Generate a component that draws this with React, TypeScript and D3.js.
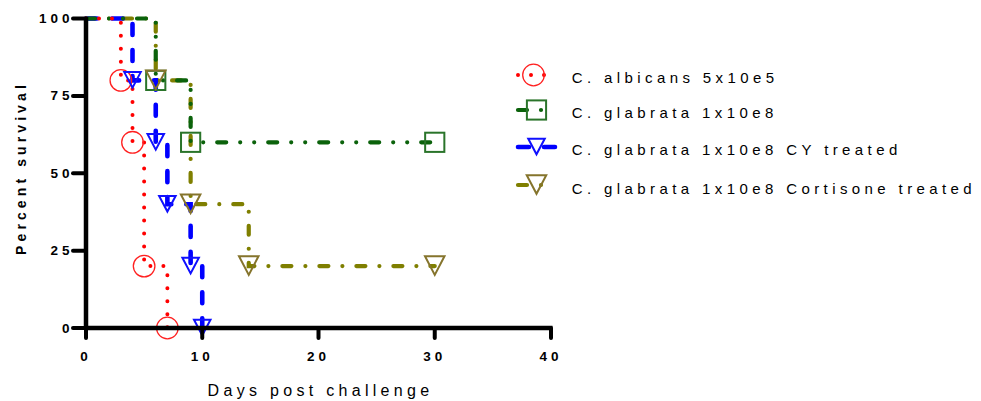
import React from "react";
import * as d3 from "d3";

// Kaplan–Meier survival steps (day, percent surviving)
const albicansDays = [0, 3, 4, 5, 7];
const albicansSurv = [100, 80, 60, 20, 0];
const glabrataDays = [0, 6, 9, 30];
const glabrataSurv = [100, 80, 60, 60];
const cyDays = [0, 4, 6, 7, 9, 10];
const cySurv = [100, 80, 60, 40, 20, 0];
const cortDays = [0, 6, 9, 14, 30];
const cortSurv = [100, 80, 40, 20, 20];

const seriesNames = [
  "C. albicans 5x10e5",
  "C. glabrata 1x10e8",
  "C. glabrata 1x10e8 CY treated",
  "C. glabrata 1x10e8 Cortisone treated",
];
const xTicks = [0, 10, 20, 30, 40];
const yTicks = [0, 25, 50, 75, 100];

type Series = {
  name: string;
  days: number[];
  surv: number[];
  color: string;
  markerColor: string;
  width: number;
  dash: string;
  marker: "circle" | "square" | "triUp" | "triBig";
};

const series: Series[] = [
  { name: seriesNames[0], days: albicansDays, surv: albicansSurv, color: "#ff0000", markerColor: "#ff2020", width: 4, dash: "0 13", marker: "circle" },
  { name: seriesNames[1], days: glabrataDays, surv: glabrataSurv, color: "#0b620b", markerColor: "#2a742a", width: 4.2, dash: "9 14 0 14 0 14", marker: "square" },
  { name: seriesNames[2], days: cyDays, surv: cySurv, color: "#0000ff", markerColor: "#1010ff", width: 4.6, dash: "11 15", marker: "triUp" },
  { name: seriesNames[3], days: cortDays, surv: cortSurv, color: "#7f7f00", markerColor: "#85742c", width: 4.2, dash: "9 14 0 14", marker: "triBig" },
];

// stacking order of the curve paths (bottom first)
const lineOrder = [3, 2, 1, 0];

const FONT = "Arial, 'Liberation Sans', sans-serif";

function Marker({ kind, x, y, color }: { kind: Series["marker"]; x: number; y: number; color: string }) {
  if (kind === "circle") {
    return <circle cx={x} cy={y} r={10.8} fill="none" stroke={color} strokeWidth={1.3} />;
  }
  if (kind === "square") {
    return <rect x={x - 9.6} y={y - 9.6} width={19.2} height={19.2} fill="none" stroke={color} strokeWidth={2} />;
  }
  const w = kind === "triBig" ? 19.5 : 16.5;
  const top = kind === "triBig" ? 9.8 : 8.3;
  const bot = kind === "triBig" ? 8.8 : 7.3;
  const pts = `${x - w / 2},${y - top} ${x + w / 2},${y - top} ${x},${y + bot}`;
  return <polygon points={pts} fill="none" stroke={color} strokeWidth={2} strokeLinejoin="miter" />;
}

export default function App() {
  const x = d3.scaleLinear().domain([0, 40]).range([86, 551]);
  const y = d3.scaleLinear().domain([0, 100]).range([328, 18.5]);

  const line = d3
    .line<[number, number]>()
    .x((d) => x(d[0]))
    .y((d) => y(d[1]))
    .curve(d3.curveStepAfter);

  const legendRows = [75, 110, 147, 185];
  const legendTextRows = [77, 112, 149, 188.5];

  return (
    <svg width={981} height={401} style={{ position: "absolute", left: 0, top: 0, background: "#fff" }}>
      {/* survival curves */}
      {lineOrder.map((idx) => {
        const s = series[idx];
        const pts = s.days.map((d, i) => [d, s.surv[i]] as [number, number]);
        return (
          <path
            key={s.name}
            d={line(pts) ?? ""}
            fill="none"
            stroke={s.color}
            strokeWidth={s.width}
            strokeDasharray={s.dash}
            strokeLinecap="round"
          />
        );
      })}
      {/* markers at each event and censoring point */}
      {series.map((s) =>
        s.days.slice(1).map((d, i) => (
          <Marker key={s.name + d} kind={s.marker} x={x(d)} y={y(s.surv[i + 1])} color={s.markerColor} />
        ))
      )}

      {/* axes */}
      <line x1={x(0)} x2={x(0)} y1={y(100) - 1.5} y2={y(0) + 2} stroke="#000" strokeWidth={4.5} />
      <line x1={x(0) - 2} x2={x(40) + 1.5} y1={y(0)} y2={y(0)} stroke="#000" strokeWidth={4.5} />
      {yTicks.map((t) => (
        <g key={"y" + t}>
          <line x1={73} x2={x(0)} y1={y(t)} y2={y(t)} stroke="#000" strokeWidth={4} strokeLinecap="round" />
          <text
            x={73.5}
            y={y(t)}
            textAnchor="end"
            dominantBaseline="central"
            fontFamily={FONT}
            fontWeight="bold"
            fontSize={13.5}
            letterSpacing={4}
            fill="#000"
          >
            {t}
          </text>
        </g>
      ))}
      {xTicks.map((t) => (
        <g key={"x" + t}>
          <line x1={x(t)} x2={x(t)} y1={y(0)} y2={338} stroke="#000" strokeWidth={4} strokeLinecap="round" />
          <text
            x={x(t)}
            y={356.5}
            textAnchor="middle"
            dominantBaseline="central"
            fontFamily={FONT}
            fontWeight="bold"
            fontSize={13.5}
            letterSpacing={4}
            fill="#000"
          >
            {t}
          </text>
        </g>
      ))}

      {/* axis titles */}
      <text
        transform="translate(21,168) rotate(-90)"
        textAnchor="middle"
        dominantBaseline="central"
        fontFamily={FONT}
        fontWeight="bold"
        fontSize={14}
        letterSpacing={4.1}
        fill="#000"
      >
        Percent survival
      </text>
      <text
        x={320.5}
        y={390.7}
        textAnchor="middle"
        dominantBaseline="central"
        fontFamily={FONT}
        fontSize={16}
        letterSpacing={4.3}
        fill="#000"
      >
        Days post challenge
      </text>

      {/* legend */}
      {series.map((s, i) => (
        <g key={"leg" + s.name}>
          <line
            x1={518}
            x2={555}
            y1={legendRows[i]}
            y2={legendRows[i]}
            stroke={s.color}
            strokeWidth={s.width}
            strokeDasharray={s.dash}
            strokeLinecap="round"
          />
          <Marker kind={s.marker} x={s.marker === "circle" ? 533.5 : 536.5} y={legendRows[i]} color={s.markerColor} />
          <text
            x={571.7}
            y={legendTextRows[i]}
            dominantBaseline="central"
            fontFamily={FONT}
            fontSize={15}
            letterSpacing={4.4}
            fill="#000"
          >
            {s.name}
          </text>
        </g>
      ))}
    </svg>
  );
}
